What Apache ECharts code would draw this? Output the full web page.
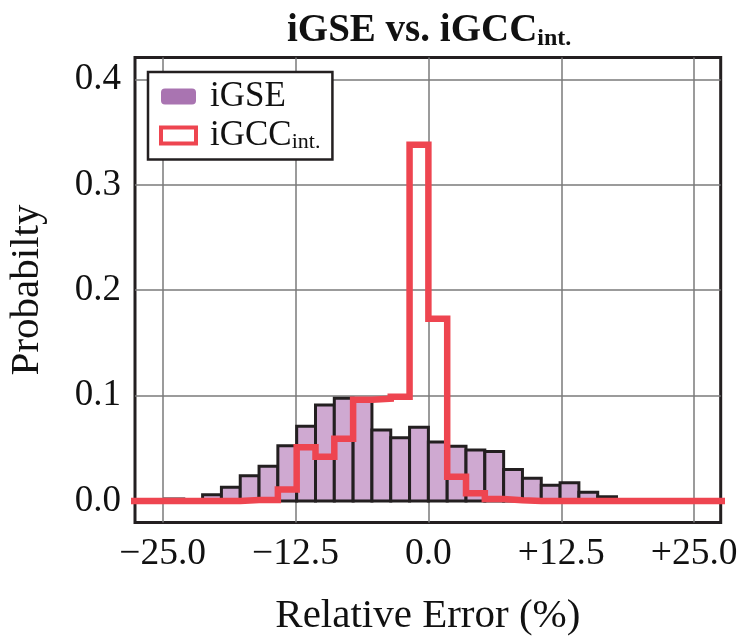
<!DOCTYPE html>
<html>
<head>
<meta charset="utf-8">
<script src="https://cdn.jsdelivr.net/npm/echarts@6/dist/echarts.min.js"></script>
<style>html,body{margin:0;padding:0;background:#fff}#c{width:741px;height:637px}</style>
</head>
<body>
<div id="c"></div>
<script>
// ---- data ----
const binWidth = 1.77;              // histogram bin width (% relative error)
const iGSEFirstBin = -14;           // index of first iGSE bin (edge = index*binWidth)
const iGSEValues = [0.002, 0, 0.006, 0.013, 0.024, 0.033, 0.0525, 0.071, 0.091, 0.0975, 0.096, 0.0674,
                    0.060, 0.070, 0.056, 0.052, 0.0485, 0.047, 0.030, 0.0215, 0.015, 0.0174, 0.0083, 0.004];
const iGCCFirstBin = -16;
const iGCCValues = [0, 0, 0, 0, 0, 0, 0.001, 0.001, 0.011, 0.051, 0.042, 0.059, 0.096, 0.097, 0.099,
                    0.338, 0.173, 0.023, 0.0073, 0.002, 0.0008, 0, 0, 0, 0, 0, 0, 0, 0, 0, 0, 0];
const xTicks = [-25, -12.5, 0, 12.5, 25];
const yTicks = [0, 0.1, 0.2, 0.3, 0.4];

const FONT = '"Liberation Serif", "Times New Roman", serif';
const RED = '#ee4550';
const INK = '#231f20';

const gseData = iGSEValues.map((v, i) => {
  const k = iGSEFirstBin + i;
  return [k * binWidth, (k + 1) * binWidth, v];
});
const gccData = iGCCValues.map((v, i) => [(iGCCFirstBin + i) * binWidth, v]);
gccData.push([(iGCCFirstBin + iGCCValues.length) * binWidth, iGCCValues[iGCCValues.length - 1]]);

const chart = echarts.init(document.getElementById('c'), null, {renderer: 'canvas'});
chart.setOption({
  animation: false,
  backgroundColor: '#fff',
  title: {
    text: '{m|iGSE vs. iGCC}{s|int.}',
    left: 282, top: 6,
    textStyle: {
      rich: {
        m: {fontFamily: FONT, fontWeight: 'bold', fontSize: 39, color: '#111'},
        s: {fontFamily: FONT, fontWeight: 'bold', fontSize: 24, color: '#111', verticalAlign: 'bottom', padding: [16, 0, 0, 0]}
      }
    }
  },
  legend: {
    orient: 'vertical', left: 148, top: 72,
    backgroundColor: '#fff', borderColor: INK, borderWidth: 2.5,
    padding: [7, 12, 6, 11], itemGap: 4, itemWidth: 35, itemHeight: 16,
    data: [
      {name: 'iGSE', icon: 'roundRect', itemStyle: {color: '#a974b1', borderWidth: 0}},
      {name: 'iGCC', icon: 'rect', itemStyle: {color: '#fff', borderColor: RED, borderWidth: 4}}
    ],
    formatter: n => n === 'iGCC' ? '{m|iGCC}{s|int.}' : '{m|iGSE}',
    textStyle: {
      padding: [0, 0, 0, 9],
      rich: {
        m: {fontFamily: FONT, fontSize: 35, color: '#111', lineHeight: 35},
        s: {fontFamily: FONT, fontSize: 22, color: '#111', verticalAlign: 'bottom', padding: [14, 0, 0, 0]}
      }
    }
  },
  grid: {left: 135, right: 20.3, top: 57.5, bottom: 114.5, show: true, borderColor: INK, borderWidth: 3,
         backgroundColor: '#fff', containLabel: false, outerBoundsMode: 'none'},
  xAxis: {
    type: 'value', min: -27.6, max: 27.5,
    name: 'Relative Error (%)', nameLocation: 'middle', nameGap: 73,
    nameTextStyle: {fontFamily: FONT, fontSize: 41, color: '#111'},
    axisLine: {show: false},
    axisTick: {show: false, customValues: xTicks},
    axisLabel: {customValues: xTicks, margin: 13, fontFamily: FONT, fontSize: 37.5, color: '#111',
      formatter: v => v === 0 ? '0.0' : (v > 0 ? '+' : '\u2212') + Math.abs(v).toFixed(1)},
    splitLine: {show: true, lineStyle: {color: '#7a7a7a', width: 1.5}}
  },
  yAxis: {
    type: 'value', min: -0.0204, max: 0.4208,
    name: 'Probabilty', nameLocation: 'middle', nameGap: 87, nameRotate: 90,
    nameTextStyle: {fontFamily: FONT, fontSize: 41, color: '#111'},
    axisLine: {show: false},
    axisTick: {show: false, customValues: yTicks},
    axisLabel: {customValues: yTicks, margin: 14, fontFamily: FONT, fontSize: 37, color: '#111',
      formatter: v => v.toFixed(1)},
    splitLine: {show: true, lineStyle: {color: '#7a7a7a', width: 1.5}}
  },
  series: [
    {
      name: 'iGSE', type: 'custom', data: gseData, clip: true, z: 2,
      itemStyle: {color: '#cfa9d1'},
      renderItem: (params, api) => {
        const v = api.value(2);
        if (!v) return null;
        const p0 = api.coord([api.value(0), v]);
        const p1 = api.coord([api.value(1), 0]);
        return {type: 'rect', shape: {x: p0[0], y: p0[1], width: p1[0] - p0[0], height: p1[1] - p0[1]},
          style: {fill: '#cfa9d1', stroke: INK, lineWidth: 3}};
      }
    },
    {
      name: 'iGCC', type: 'line', step: 'end', data: gccData, showSymbol: false, symbol: 'none', z: 3,
      clip: true,
      itemStyle: {color: RED},
      lineStyle: {color: RED, width: 6.5, join: 'miter', cap: 'butt'}
    }
  ]
});
</script>
</body>
</html>
